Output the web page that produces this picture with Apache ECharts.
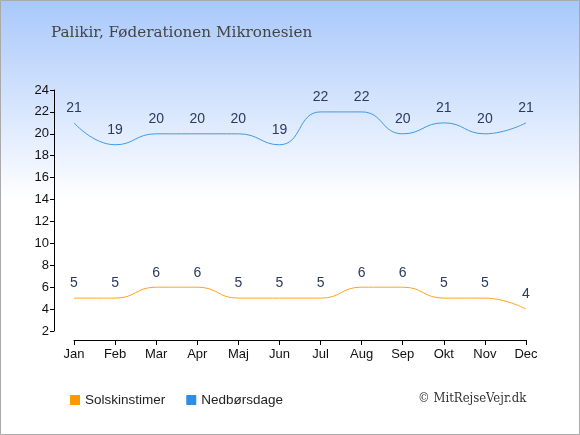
<!DOCTYPE html>
<html><head><meta charset="utf-8">
<script src="https://cdn.jsdelivr.net/npm/echarts@6/dist/echarts.min.js"></script>
<style>html,body{margin:0;padding:0;}#c{width:580px;height:435px;}</style>
</head><body><div id="c"></div>
<script>
const months = ['Jan','Feb','Mar','Apr','Maj','Jun','Jul','Aug','Sep','Okt','Nov','Dec'];
const sunHours = [5,5,6,6,5,5,5,6,6,5,5,4];
const rainDays = [21,19,20,20,20,19,22,22,20,21,20,21];
const yTicks = {min:2, max:24, interval:2};
const titleText = 'Palikir, Føderationen Mikronesien';
const seriesNames = ['Solskinstimer','Nedbørsdage'];
const credit = '© MitRejseVejr.dk';

const chart = echarts.init(document.getElementById('c'), null, {renderer:'canvas'});
const labelStyle = {show:true, position:'top', distance:7, color:'#2a3b5c', fontSize:14, fontFamily:'Liberation Sans'};
chart.setOption({
  animation:false,
  backgroundColor: new echarts.graphic.LinearGradient(0,0,0,1,[
    {offset:0,color:'#a8c8fb'},{offset:0.46,color:'#ffffff'},{offset:1,color:'#ffffff'}]),
  title:{text:titleText, left:46, top:21, textStyle:{fontFamily:'DejaVu Serif', fontWeight:'normal', fontSize:15.2, color:'#444444'}},
  legend:{left:65, top:388, itemWidth:10, itemHeight:10, itemGap:21, icon:'rect',
    textStyle:{fontFamily:'Liberation Sans', fontSize:13.5, color:'#222222'},
    data:[{name:seriesNames[0], itemStyle:{color:'#ff9900', opacity:1}},
          {name:seriesNames[1], itemStyle:{color:'#2e8fe6', opacity:1}}]},
  grid:{left:74, right:54, top:90, bottom:104},
  xAxis:{type:'category', data:months, boundaryGap:false, offset:9,
    axisLine:{lineStyle:{color:'#000',width:1}},
    axisTick:{show:true, length:5, alignWithLabel:true, lineStyle:{color:'#000'}},
    axisLabel:{color:'#111', fontSize:13, fontFamily:'Liberation Sans', margin:8, interval:0}},
  yAxis:{type:'value', min:yTicks.min, max:yTicks.max, interval:yTicks.interval, offset:20,
    axisLine:{show:true, lineStyle:{color:'#000',width:1}},
    axisTick:{show:true, length:4, lineStyle:{color:'#000'}},
    splitLine:{show:false},
    axisLabel:{color:'#111', fontSize:13, fontFamily:'Liberation Sans', margin:5}},
  series:[
    {name:seriesNames[0], type:'line', data:sunHours, smooth:0.5, symbol:'circle', symbolSize:1, showSymbol:true,
      itemStyle:{color:'rgba(0,0,0,0)'}, lineStyle:{color:'#ffa41f', width:1}, label:labelStyle},
    {name:seriesNames[1], type:'line', data:rainDays, smooth:0.5, symbol:'circle', symbolSize:1, showSymbol:true,
      itemStyle:{color:'rgba(0,0,0,0)'}, lineStyle:{color:'#3f9ae8', width:1}, label:labelStyle}
  ],
  graphic:[
    {type:'text', left:418, top:392, style:{text:credit, font:'13px "DejaVu Serif Condensed", "DejaVu Serif"', fill:'#333'}},
    {type:'rect', shape:{x:0.5,y:0.5,width:579,height:434}, style:{fill:'none', stroke:'#aaaaaa', lineWidth:1}, z:100}
  ]
});
</script></body></html>
